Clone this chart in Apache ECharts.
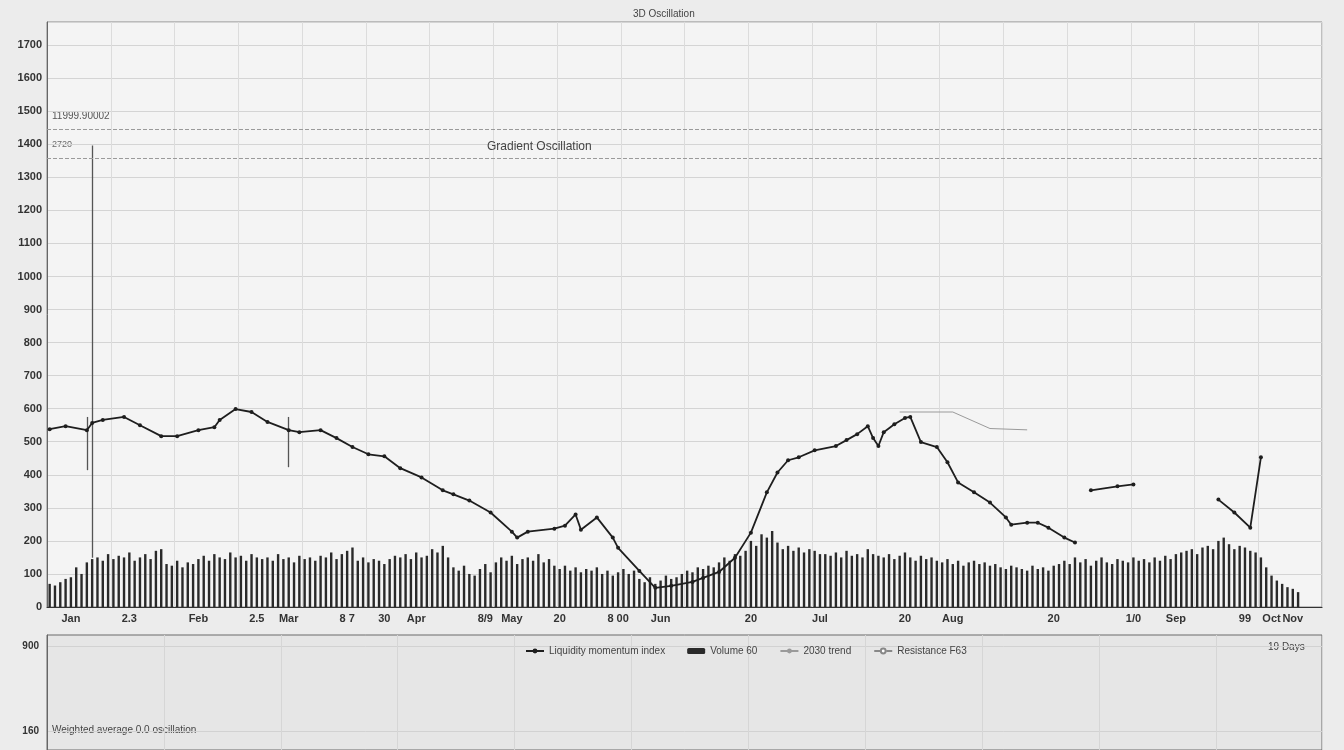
<!DOCTYPE html>
<html>
<head>
<meta charset="utf-8">
<script src="https://cdn.jsdelivr.net/npm/echarts@6/dist/echarts.min.js"></script>
<style>
html,body{margin:0;padding:0;background:#ececec;}
#chart{width:1344px;height:750px;}
</style>
</head>
<body>
<div id="chart"></div>
<script>
// ---- data ----
const categoryCount = 240;
const categories = [];
for (let i = 0; i < categoryCount; i++) categories.push('D' + (i + 1));

const xTickIdx  = [4, 15, 28, 39, 45, 56, 63, 69, 82, 87, 96, 107, 115, 132, 145, 161, 170, 189, 204, 212, 225, 230, 234];
const xTickText = ['Jan', '2.3', 'Feb', '2.5', 'Mar', '8 7', '30', 'Apr', '8/9', 'May', '20', '8 00', 'Jun', '20', 'Jul', '20', 'Aug', '20', '1/0', 'Sep', '99', 'Oct', 'Nov'];

const barValues = [
  70,65,75,85,
  90,120,100,135,145,
  150,140,160,145,155,150,165,140,150,160,145,170,
  175,130,125,140,120,135,130,
  145,155,140,160,150,145,165,150,155,140,160,150,145,
  150,140,160,145,150,135,155,145,150,140,
  155,150,165,145,160,170,180,
  140,150,135,145,140,130,145,
  155,150,160,145,165,150,155,175,165,185,150,
  120,110,125,100,95,115,130,105,
  135,150,140,155,130,145,150,140,160,135,145,125,
  115,125,110,120,105,115,110,120,
  100,110,95,105,115,100,110,
  85,75,90,70,80,95,85,90,
  100,110,105,120,115,125,120,
  135,150,140,160,155,170,
  200,185,220,210,230,195,
  175,185,170,180,165,175,170,160,
  160,155,165,150,170,155,160,150,175,160,155,
  150,160,145,155,165,150,140,155,145,150,140,
  135,145,130,140,125,135,140,130,135,125,130,
  120,115,125,120,115,110,125,115,120,110,125,130,
  140,130,150,135,145,125,140,150,135,130,145,140,135,150,
  140,145,135,150,140,155,145,160,
  165,170,175,160,180,185,175,200,
  210,190,175,185,180,170,165,
  150,120,95,80,70,60,55,45
];

const lineIdx = [0,3,7,8,10,14,17,21,24,28,31,32,35,38,41,45,47,51,54,57,60,63,66,70,74,76,79,83,87,88,90,95,97,99,100,103,106,107,111,114,117,121,123,126,129,132,135,137,139,141,144,148,150,152,154,155,156,157,159,161,162,164,167,169,171,174,177,180,181,184,186,188,191,193,
  194,196,201,204,205,220,223,226,228];
const lineVal = [538,547,535,557,566,575,550,517,517,535,544,566,599,590,560,535,529,535,511,484,462,456,420,392,353,341,322,286,228,210,228,237,246,280,234,271,210,179,109,58,64,76,88,106,149,225,347,407,444,453,474,487,505,523,547,511,487,529,553,572,575,499,484,438,377,347,316,271,249,255,255,240,210,195,
  '-',353,365,371,'-',325,286,240,453];

const trendIdx = [160,170,177,184];
const trendVal = [590,590,540,536];

const vLines = [[8,1396,149],[7,575,414],[45,575,423]];   // [category, from, to]
const hLevels = [1444,1359];                            // dashed reference levels
const lowerTicks = [160,900];

// ---- chart ----
const font = 'Liberation Sans Narrow, Liberation Sans, Arial';
const chart = echarts.init(document.getElementById('chart'));
const lineData = lineIdx.map((i, k) => [i, lineVal[k]]);
const trendData = trendIdx.map((i, k) => [i, trendVal[k]]);

chart.setOption({
  backgroundColor: '#ececec',
  animation: false,
  title: [
    {text: '3D Oscillation', left: 628, top: 4, textStyle: {fontSize: 10, fontWeight: 'normal', color: '#444', fontFamily: font}},
    {text: 'Gradient Oscillation', left: 482, top: 136, textStyle: {fontSize: 12, fontWeight: 'normal', color: '#444', fontFamily: font}}
  ],
  legend: {
    left: 520, top: 641, itemWidth: 18, itemHeight: 6, itemGap: 22,
    textStyle: {fontSize: 10, color: '#444', fontFamily: font},
    data: ['Liquidity momentum index', 'Volume 60', '2030 trend', 'Resistance F63']
  },
  graphic: [
    {type: 'text', left: 52, top: 111, style: {text: '11999.90002', fontSize: 10, fill: '#555', fontFamily: font}},
    {type: 'text', left: 52, top: 140, style: {text: '2720', fontSize: 9, fill: '#666', fontFamily: font}},
    {type: 'text', left: 1268, top: 642, style: {text: '19 Days', fontSize: 10, fill: '#444', fontFamily: font}},
    {type: 'text', left: 52, top: 725, style: {text: 'Weighted average 0.0 oscillation', fontSize: 10, fill: '#444', fontFamily: font}}
  ],
  grid: [
    {left: 47, right: 22, top: 22, bottom: 143, show: true, backgroundColor: '#f4f4f4', borderColor: '#8a8a8a', borderWidth: 1},
    {left: 47, right: 22, top: 635, height: 115, show: true, backgroundColor: '#e6e6e6', borderColor: '#6a6a6a', borderWidth: 1}
  ],
  xAxis: [
    {
      type: 'category', gridIndex: 0, data: categories, boundaryGap: true,
      axisLine: {lineStyle: {color: '#333', width: 1.2}},
      axisTick: {show: false},
      axisLabel: {
        interval: (idx) => xTickIdx.indexOf(idx) >= 0,
        formatter: (v, idx) => { const k = xTickIdx.indexOf(idx); return k >= 0 ? xTickText[k] : ''; },
        fontSize: 11, fontWeight: 'bold', color: '#333', fontFamily: font, margin: 6
      },
      splitLine: {show: true, interval: 11, lineStyle: {color: '#dcdcdc', width: 1}}
    },
    {
      type: 'category', gridIndex: 1, data: categories, boundaryGap: true,
      axisLine: {show: false}, axisTick: {show: false}, axisLabel: {show: false},
      splitLine: {show: true, interval: 21, lineStyle: {color: '#d6d6d6', width: 1}}
    }
  ],
  yAxis: [
    {
      type: 'value', gridIndex: 0, min: 0, max: 1770, interval: 100,
      axisLine: {show: true, lineStyle: {color: '#666'}},
      axisTick: {show: false},
      axisLabel: {showMaxLabel: false, formatter: (v) => String(v), fontSize: 11, fontWeight: 'bold', color: '#333', fontFamily: font, margin: 5},
      splitLine: {lineStyle: {color: '#d4d4d4', width: 1}}
    },
    {
      type: 'value', gridIndex: 1, min: 0, max: 1000,
      axisLine: {show: true, lineStyle: {color: '#666'}},
      axisTick: {show: false, customValues: lowerTicks},
      axisLabel: {customValues: lowerTicks, formatter: (v) => String(v), fontSize: 10, fontWeight: 'bold', color: '#333', fontFamily: font, margin: 8},
      splitLine: {show: true, lineStyle: {color: '#d2d2d2'}}
    }
  ],
  series: [
    {
      name: 'Volume 60', type: 'bar', xAxisIndex: 0, yAxisIndex: 0,
      data: barValues, barWidth: 2.4, itemStyle: {color: '#2a2a2a'}, z: 2
    },
    {
      name: '2030 trend', type: 'line', xAxisIndex: 0, yAxisIndex: 0,
      data: trendData, symbol: 'none', lineStyle: {color: '#9a9a9a', width: 1}, itemStyle: {color: '#9a9a9a'}, z: 3
    },
    {
      name: 'Liquidity momentum index', type: 'line', xAxisIndex: 0, yAxisIndex: 0,
      data: lineData, connectNulls: false,
      symbol: 'circle', symbolSize: 4, showAllSymbol: true,
      lineStyle: {color: '#1e1e1e', width: 1.8},
      itemStyle: {color: '#1e1e1e'}, z: 5,
      markLine: {
        silent: true, symbol: 'none', label: {show: false},
        lineStyle: {color: '#555', width: 1.3, type: 'solid'},
        data: vLines.map(v => [{coord: [v[0], v[1]]}, {coord: [v[0], v[2]]}])
      }
    },
    {
      name: 'Resistance F63', type: 'line', xAxisIndex: 0, yAxisIndex: 0, data: [],
      lineStyle: {color: '#888', type: 'dashed', width: 1}, itemStyle: {color: '#888'},
      markLine: {
        silent: true, symbol: 'none', label: {show: false},
        lineStyle: {color: '#9a9a9a', type: 'dashed', width: 1},
        data: hLevels.map(v => ({yAxis: v}))
      }
    }
  ]
});
</script>
</body>
</html>
